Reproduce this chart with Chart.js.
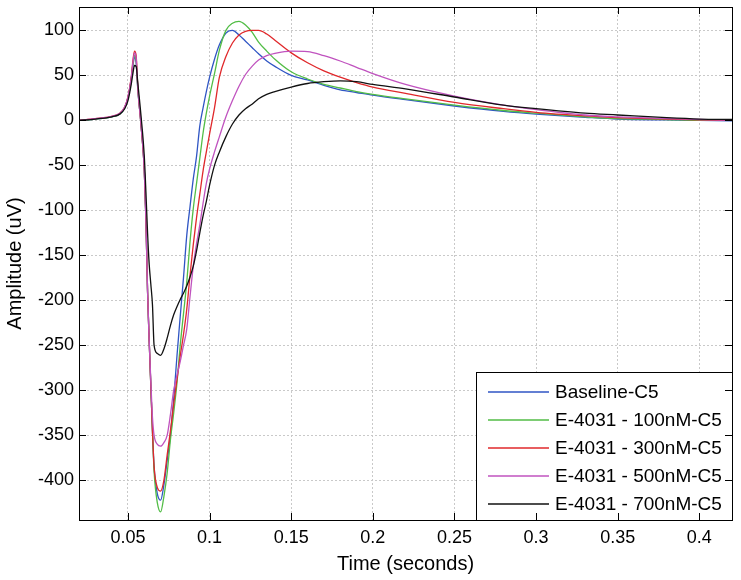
<!DOCTYPE html>
<html>
<head>
<meta charset="utf-8">
<script src="https://cdn.jsdelivr.net/npm/chart.js@4.4.0/dist/chart.umd.min.js"></script>
<style>
    html, body { margin: 0; padding: 0; background: #fff; }
    #wrap { width: 741px; height: 580px; }
</style>
</head>
<body>
<div id="wrap"><canvas id="ampChart" width="741" height="580"></canvas></div>
<script>
// time axis (seconds) shared by every trace
const times = [0.02, 0.03, 0.04, 0.045, 0.048,
    0.05, 0.052, 0.053, 0.054, 0.055,
    0.056, 0.058, 0.06, 0.061, 0.062,
    0.063, 0.064, 0.065, 0.066, 0.068,
    0.07, 0.072, 0.074, 0.076, 0.078,
    0.08, 0.082, 0.084, 0.086, 0.088,
    0.09, 0.092, 0.094, 0.096, 0.098,
    0.1, 0.103, 0.106, 0.11, 0.114,
    0.118, 0.122, 0.126, 0.13, 0.135,
    0.14, 0.15, 0.16, 0.17, 0.18,
    0.19, 0.2, 0.22, 0.25, 0.28,
    0.3, 0.33, 0.35, 0.38, 0.4,
    0.42];

// amplitudes (uV)
const baseline = [0, 1.5, 4, 7, 14,
    25, 45, 60, 70, 64,
    35, -5, -55, -110, -190,
    -245, -295, -345, -385, -415,
    -422, -405, -378, -350, -310,
    -262, -218, -175, -128, -96,
    -65, -40, -6, 14, 32,
    48, 68, 84, 97, 100,
    95, 88, 81, 74, 66,
    60, 50, 45, 39, 34,
    31, 28, 23, 16, 10,
    7, 3.5, 1.5, 0.5, 0,
    -0.5];
const dose100 = [0, 1.5, 4, 7, 14,
    25, 46, 62, 72, 67,
    36, -5, -55, -110, -190,
    -245, -295, -345, -390, -425,
    -435, -418, -392, -355, -325,
    -292, -250, -215, -180, -135,
    -98, -70, -42, -14, 8,
    27, 52, 78, 100, 108,
    110, 106, 98, 87, 77,
    68, 54, 46, 40, 36,
    32, 29, 24, 17, 11,
    8, 4, 2, 1, 0,
    0];
const dose300 = [0, 2, 4.5, 8, 15,
    26, 48, 66, 77, 72,
    38, -5, -55, -110, -190,
    -245, -295, -345, -385, -408,
    -412, -400, -372, -345, -315,
    -288, -262, -238, -210, -172,
    -138, -108, -82, -56, -35,
    -15, 14, 48, 71, 86,
    95, 99, 100, 100, 96,
    89, 75, 64, 55, 48,
    42, 37, 30, 20, 13,
    9, 5, 3, 1.5, 0.5,
    0];
const dose500 = [0, 2, 4.5, 8, 15,
    26, 47, 64, 75, 70,
    37, -5, -55, -110, -190,
    -245, -290, -330, -350, -360,
    -362, -358, -350, -327, -300,
    -283, -268, -250, -232, -196,
    -162, -137, -116, -92, -70,
    -54, -35, -18, 4, 22,
    38, 51, 60, 67, 72,
    74.5, 77, 76.5, 72, 66,
    59, 52, 40, 27, 17,
    12, 6, 4, 2, 1,
    0];
const dose700 = [0, 1.5, 4, 7, 13,
    22, 40, 52, 61, 60,
    42, 5, -40, -80, -125,
    -160, -182, -205, -250, -259,
    -261, -254, -242, -228, -216,
    -207, -199, -192, -184, -174,
    -162, -145, -125, -106, -90,
    -72, -50, -35, -18, -4,
    6, 13, 18, 24, 29,
    32, 37, 41, 43, 44,
    43, 40, 35, 26, 17,
    13, 8, 6, 3, 1.5,
    1];

const seriesNames = ['Baseline-C5', 'E-4031 - 100nM-C5', 'E-4031 - 300nM-C5', 'E-4031 - 500nM-C5', 'E-4031 - 700nM-C5'];
const seriesValues = [baseline, dose100, dose300, dose500, dose700];
const seriesColors = ['#2f55c4', '#52bd46', '#e0282b', '#c053bf', '#111111'];

const xTicks = [0.05, 0.1, 0.15, 0.2, 0.25, 0.3, 0.35, 0.4];
const yTicks = [-400, -350, -300, -250, -200, -150, -100, -50, 0, 50, 100];

const FONT = "'Liberation Sans', Arial, sans-serif";

// legend box in the lower right corner, like the MATLAB one
const boxLegend = {
    id: 'boxLegend',
    afterDatasetsDraw(chart) {
        const { ctx, chartArea: a } = chart;
        const w = 256, h = 148;
        const x0 = a.right - w, y0 = a.bottom - h;
        ctx.save();
        ctx.fillStyle = '#fff';
        ctx.fillRect(x0, y0, w, h);
        ctx.strokeStyle = '#000';
        ctx.lineWidth = 1;
        ctx.strokeRect(Math.round(x0) + 0.5, Math.round(y0) + 0.5, w, h);
        ctx.font = '19px ' + FONT;
        ctx.textBaseline = 'middle';
        chart.data.datasets.forEach((ds, i) => {
            const yy = y0 + 20 + i * 28;
            ctx.strokeStyle = ds.borderColor;
            ctx.lineWidth = 1.3;
            ctx.beginPath();
            ctx.moveTo(x0 + 12, yy);
            ctx.lineTo(x0 + 73, yy);
            ctx.stroke();
            ctx.fillStyle = '#000';
            ctx.fillText(ds.label, x0 + 79, yy + 1);
        });
        ctx.restore();
    }
};

// black frame with inward tick marks on all four sides
const frameTicks = {
    id: 'frameTicks',
    afterDraw(chart) {
        const { ctx, chartArea: a, scales: { x, y } } = chart;
        const len = 7;
        ctx.save();
        ctx.strokeStyle = '#000';
        ctx.lineWidth = 1;
        ctx.beginPath();
        xTicks.forEach(t => {
            const px = Math.round(x.getPixelForValue(t)) + 0.5;
            ctx.moveTo(px, a.bottom); ctx.lineTo(px, a.bottom - len);
            ctx.moveTo(px, a.top); ctx.lineTo(px, a.top + len);
        });
        yTicks.forEach(v => {
            const py = Math.round(y.getPixelForValue(v)) + 0.5;
            ctx.moveTo(a.left, py); ctx.lineTo(a.left + len, py);
            ctx.moveTo(a.right, py); ctx.lineTo(a.right - len, py);
        });
        ctx.stroke();
        ctx.strokeRect(Math.round(a.left) + 0.5, Math.round(a.top) + 0.5,
            Math.round(a.right - a.left), Math.round(a.bottom - a.top));
        ctx.restore();
    }
};

document.addEventListener('DOMContentLoaded', function() {
    const ctx = document.getElementById('ampChart').getContext('2d');
    new Chart(ctx, {
        type: 'line',
        data: {
            datasets: seriesValues.map((vals, i) => ({
                label: seriesNames[i],
                data: times.map((t, j) => ({ x: t, y: vals[j] })),
                borderColor: seriesColors[i],
                backgroundColor: seriesColors[i],
                borderWidth: 1.3,
                pointRadius: 0,
                fill: false,
                cubicInterpolationMode: 'monotone',
                order: seriesValues.length - i
            }))
        },
        options: {
            responsive: false,
            devicePixelRatio: 1,
            animation: false,
            layout: {
                padding: { top: 7, right: 9, left: 0, bottom: 0 }
            },
            plugins: {
                legend: { display: false },
                tooltip: { enabled: false }
            },
            scales: {
                x: {
                    type: 'linear',
                    min: 0.02,
                    max: 0.42,
                    afterBuildTicks: s => { s.ticks = xTicks.map(v => ({ value: v })); },
                    afterFit: s => { s.height = 60; s.paddingLeft = 0; s.paddingRight = 0; },
                    grid: {
                        color: '#c9c9c9',
                        drawTicks: false
                    },
                    border: { display: false, dash: [2, 2] },
                    ticks: {
                        color: '#000',
                        padding: 7,
                        maxRotation: 0,
                        font: { family: FONT, size: 18 },
                        callback: v => String(v)
                    },
                    title: {
                        display: true,
                        text: 'Time (seconds)',
                        color: '#000',
                        padding: { top: 0, bottom: 4 },
                        font: { family: FONT, size: 20 }
                    }
                },
                y: {
                    type: 'linear',
                    min: -444,
                    max: 126,
                    afterBuildTicks: s => { s.ticks = yTicks.map(v => ({ value: v })); },
                    afterFit: s => { s.width = 79; s.paddingTop = 0; s.paddingBottom = 0; },
                    grid: {
                        color: '#c9c9c9',
                        drawTicks: false
                    },
                    border: { display: false, dash: [2, 2] },
                    ticks: {
                        color: '#000',
                        padding: 5,
                        font: { family: FONT, size: 18 },
                        callback: v => String(v)
                    },
                    title: {
                        display: true,
                        text: 'Amplitude (uV)',
                        color: '#000',
                        padding: { top: 3, bottom: 0 },
                        font: { family: FONT, size: 20 }
                    }
                }
            }
        },
        plugins: [boxLegend, frameTicks]
    });
});
</script>
</body>
</html>
